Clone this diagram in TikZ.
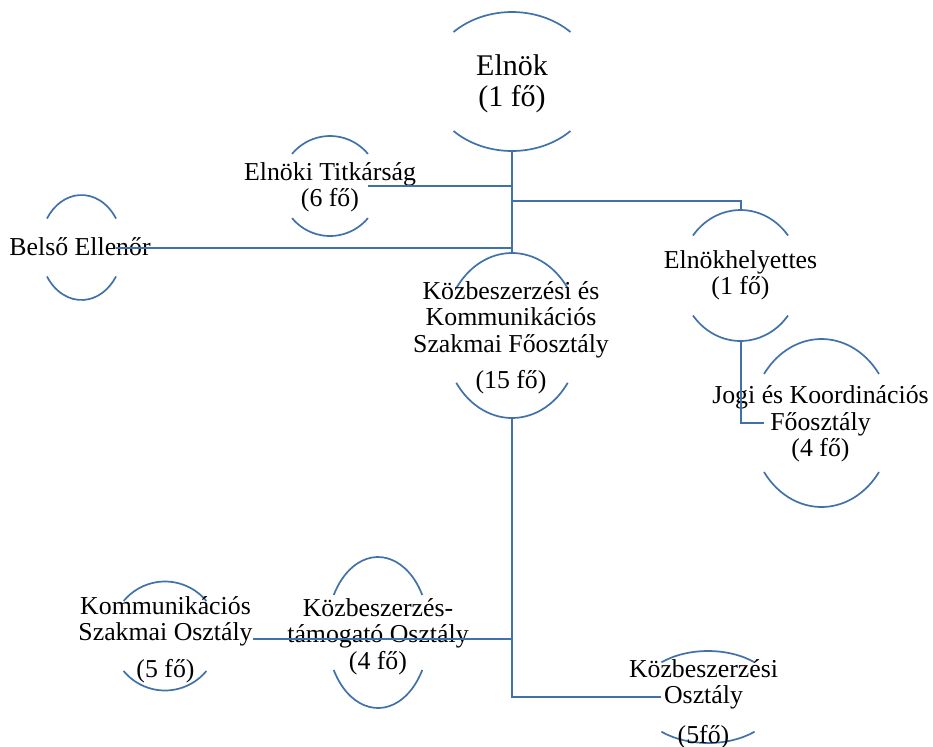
\documentclass[tikz,border=0pt]{standalone}
\usepackage{fontspec}
\setmainfont{Liberation Serif}
\definecolor{orgblue}{RGB}{65,113,171}
\tikzset{
    bracketline/.style={draw=orgblue, line width=0.85pt},
    link/.style={draw=orgblue, line width=1pt},
    unit/.style={align=center, inner sep=0pt, font=\fontsize{12.9}{13.25}\selectfont},
    pics/brackets/.style n args={3}{code={
        \draw[bracketline] (#3:#1 and #2) arc[start angle=#3, end angle=180-#3, x radius=#1, y radius=#2];
        \draw[bracketline] (180+#3:#1 and #2) arc[start angle=180+#3, end angle=360-#3, x radius=#1, y radius=#2];
        \coordinate (-top) at (0,#2);
        \coordinate (-bot) at (0,-#2);
        \coordinate (-left) at ({-#1*cos(#3)},0);
        \coordinate (-right) at ({#1*cos(#3)},0);
    }}
}

\begin{document}
\begin{tikzpicture}[x=0.5pt,y=0.5pt]
    \useasboundingbox (0,0) rectangle (933,-746);
    \pic (elnokarc) at (512,-81.5) {brackets={83.3}{69.5}{45.4}};
    \pic (titkarc) at (330,-186) {brackets={49.5}{50}{40}};
    \pic (belsoarc) at (81.5,-247.5) {brackets={41.4}{52.5}{33.5}};
    \pic (kfoarc) at (512,-335.5) {brackets={68}{82.5}{35}};
    \pic (helyarc) at (740.5,-275.5) {brackets={60}{65.5}{37.6}};
    \pic (jogiarc) at (821.5,-423) {brackets={70.8}{84}{35.7}};
    \pic (kommarc) at (165,-636) {brackets={54}{54.5}{40}};
    \pic (tamogarc) at (378,-632.5) {brackets={51}{75.5}{29.8}};
    \pic (kboarc) at (708,-697) {brackets={71}{46}{49}};
    \node[unit, font=\fontsize{15}{15.5}\selectfont] (elnok) at (512,-83.5) {Elnök\\(1 fő)};
    \node[unit] (titk) at (330,-187.4) {Elnöki Titkárság\\(6 fő)};
    \node[unit] (belso) at (80,-247.1) {Belső Ellenőr};
    \node[unit] (kfo) at (511,-337.7) {Közbeszerzési és\\Kommunikációs\\Szakmai Főosztály\\[5pt](15 fő)};
    \node[unit] (hely) at (740.5,-275.5) {Elnökhelyettes\\(1 fő)};
    \node[unit] (jogi) at (820.5,-423.9) {Jogi és Koordinációs\\Főosztály\\(4 fő)};
    \node[unit] (komm) at (165.5,-639.4) {Kommunikációs\\Szakmai Osztály\\[5pt](5 fő)};
    \node[unit] (tamog) at (378,-636.4) {Közbeszerzés-\\támogató Osztály\\(4 fő)};
    \node[unit] (kbo) at (703.5,-703.9) {Közbeszerzési\\Osztály\\[6.5pt](5fő)};
    \coordinate (fork) at (512,-200.5);
    \draw[link] (elnokarc-bot) -- (kfoarc-top);
    \draw[link] (titkarc-right) -- (titkarc-right -| elnokarc-bot);
    \draw[link] (belsoarc-right) -- (belsoarc-right -| elnokarc-bot);
    \draw[link] (fork) -| (helyarc-top);
    \draw[link] (helyarc-bot) |- (jogiarc-left);
    \draw[link] (kfoarc-bot) |- (komm.east);
    \draw[link] (kfoarc-bot) |- (kboarc-left);
\end{tikzpicture}
\end{document}
